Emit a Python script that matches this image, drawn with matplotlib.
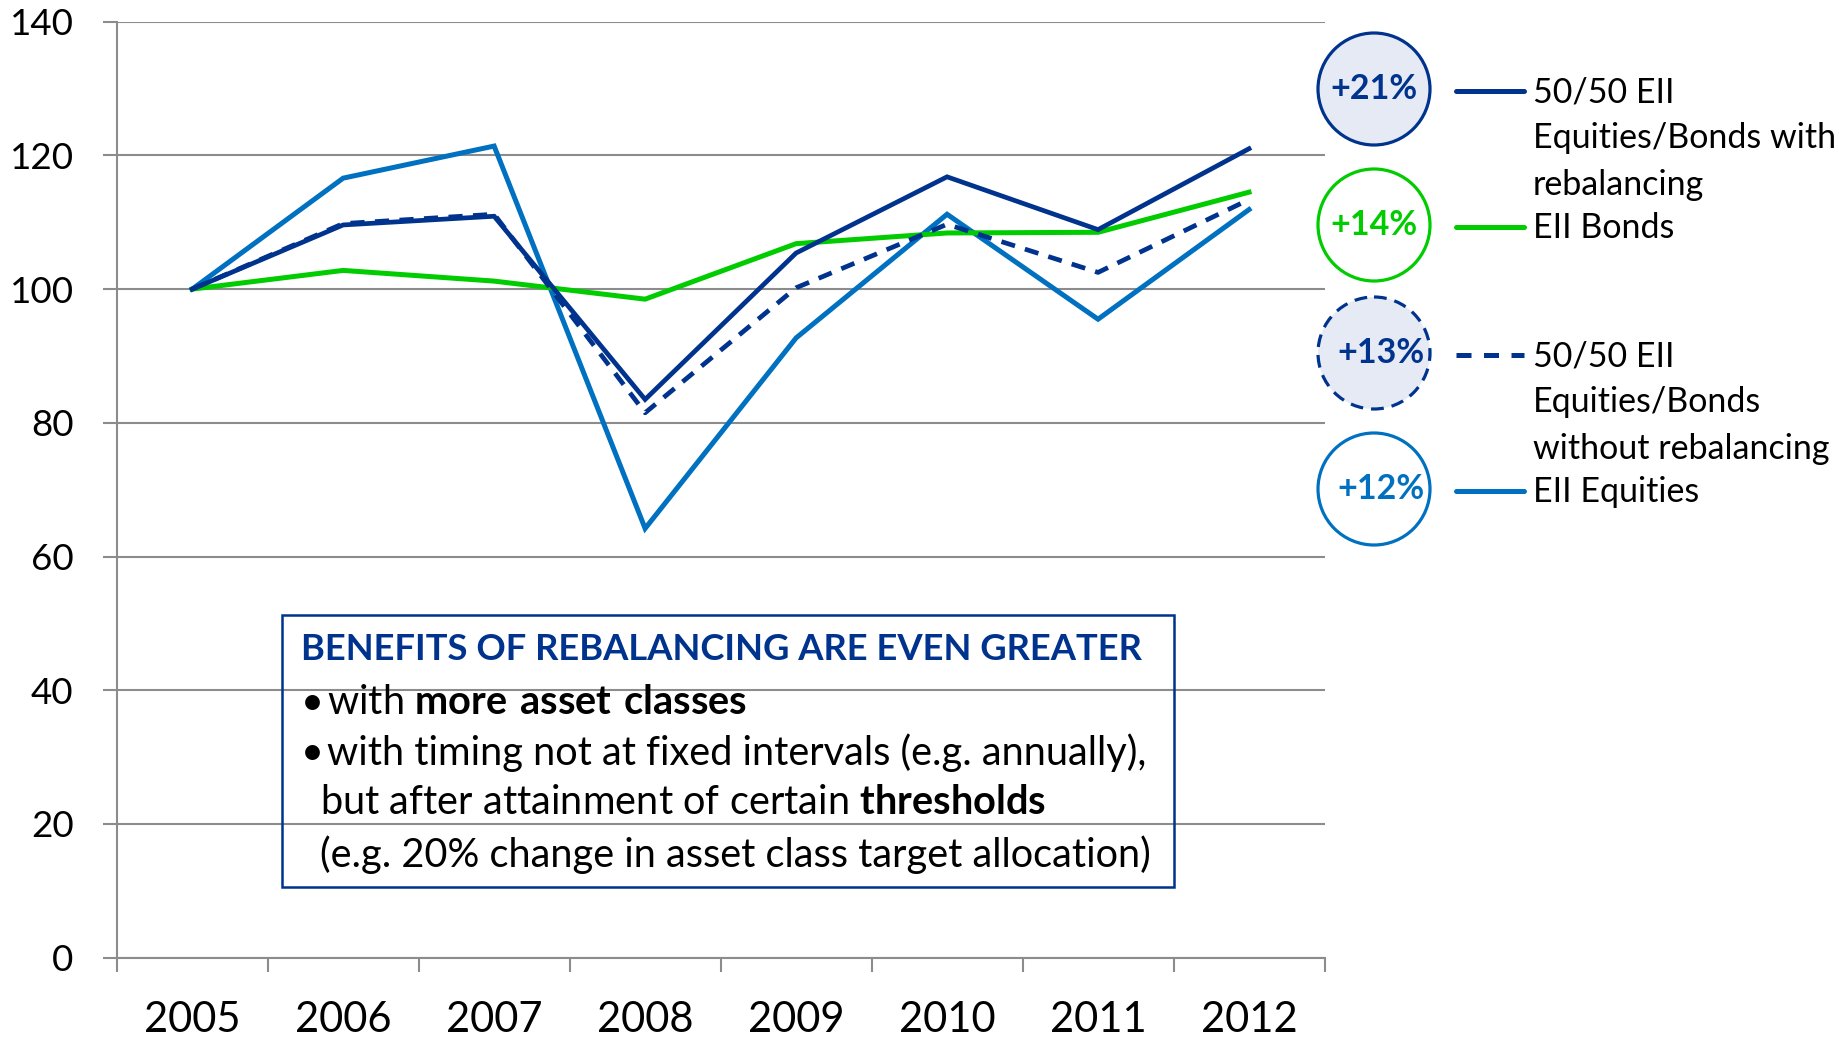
#!/usr/bin/env python3
"""Rebalancing chart: 50/50 EII portfolios vs single asset classes, 2005-2012."""
import numpy as np
import matplotlib
matplotlib.use('Agg')
import matplotlib.pyplot as plt
from matplotlib.patches import Circle, Rectangle

years = ['2005', '2006', '2007', '2008', '2009', '2010', '2011', '2012']
with_rebal = [100, 109.6, 110.9, 83.5, 105.4, 116.8, 108.9, 121.0]
bonds = [100, 102.8, 101.2, 98.5, 106.8, 108.4, 108.5, 114.5]
without_rebal = [100, 109.8, 111.2, 81.5, 100.2, 109.7, 102.5, 113.4]
equities = [100, 116.6, 121.4, 64.2, 92.7, 111.2, 95.5, 111.9]

legend_pct = ['+21%', '+14%', '+13%', '+12%']
legend_lines = [['50/50 EII', 'Equities/Bonds with', 'rebalancing'],
                ['EII Bonds'],
                ['50/50 EII', 'Equities/Bonds', 'without rebalancing'],
                ['EII Equities']]

COL = {
    'navy': '#00338D',
    'green': '#00CC00',
    'blue': '#0070C0',
    'fill': '#E6EAF4',
    'grid': '#8C8C8C',
}
FONT = 'Lato'
W, H = 1839, 1040


def main():
    plt.rcParams.update({'font.family': FONT, 'mathtext.fontset': 'custom',
                         'mathtext.rm': FONT, 'mathtext.bf': f'{FONT}:bold'})
    fig = plt.figure(figsize=(W / 100, H / 100), dpi=100, facecolor='white')
    ax = fig.add_axes([116.7 / W, 1 - 957.7 / H, (1324.5 - 116.7) / W, (957.7 - 21.7) / H])

    x = np.arange(len(years)) + 0.5
    ax.plot(x, equities, color=COL['blue'], lw=3.6, solid_joinstyle='miter', zorder=3)
    ax.plot(x, without_rebal, color=COL['navy'], lw=3.4, ls=(0, (3, 2.2)), zorder=4)
    ax.plot(x, bonds, color=COL['green'], lw=3.6, solid_joinstyle='miter', zorder=3)
    ax.plot(x, with_rebal, color=COL['navy'], lw=3.4, solid_joinstyle='miter', zorder=5)

    ax.set_xlim(0, len(years))
    ax.set_ylim(0, 140)
    ax.set_yticks(range(0, 141, 20))
    ax.grid(axis='y', color=COL['grid'], lw=1.5)
    ax.set_axisbelow(True)
    ax.spines[['top', 'right']].set_visible(False)
    for sp in ['left', 'bottom']:
        ax.spines[sp].set_color(COL['grid'])
        ax.spines[sp].set_linewidth(1.5)
    ax.tick_params(axis='y', length=10, width=1.5, color=COL['grid'], labelsize=26.5, pad=21)
    ax.set_xticks(range(len(years) + 1))
    ax.set_xticklabels([])
    ax.tick_params(axis='x', which='major', length=10, width=1.5, color=COL['grid'])
    ax.set_xticks(x, minor=True)
    ax.set_xticklabels(years, minor=True)
    ax.tick_params(axis='x', which='minor', length=0, labelsize=30, pad=31)

    # overlay in pixel coords for the legend circles and the text box
    ov = fig.add_axes([0, 0, 1, 1], facecolor='none')
    ov.set_xlim(0, W)
    ov.set_ylim(H, 0)
    ov.axis('off')

    circ_y = [89, 225, 353, 489]
    edge = [COL['navy'], COL['green'], COL['navy'], COL['blue']]
    face = [COL['fill'], 'white', COL['fill'], 'white']
    styles = ['-', '-', (0, (4, 2.5)), '-']
    dx = [0, 0, 7, 7]
    for cy, pct, ec, fc, st, d in zip(circ_y, legend_pct, edge, face, styles, dx):
        ov.add_patch(Circle((1374, cy), 56, fc=fc, ec=ec, lw=2.3, ls=st))
        ov.text(1374 + d, cy, pct, ha='center', va='center', fontsize=24.5, fontweight='bold', color=ec)
        ov.plot([1456, 1524], [cy + 2, cy + 2], color=ec, lw=3.6,
                ls=(0, (3, 2.5)) if st != '-' else '-', solid_capstyle='round')
    for cy, lines in zip(circ_y, legend_lines):
        for k, t in enumerate(lines):
            ov.text(1533, cy + 3 + k * 46.5, t, ha='left', va='center', fontsize=24.5, color='black')

    ov.add_patch(Rectangle((282, 615), 892, 272, fc='none', ec=COL['navy'], lw=1.8))
    ov.text(301, 650, 'BENEFITS OF REBALANCING ARE EVEN GREATER', ha='left', va='center',
            fontsize=26.2, fontweight='bold', color=COL['navy'])
    fs = 28.6
    ov.text(301, 703, '•', ha='left', va='center', fontsize=fs)
    ov.text(327, 703, 'with $\\bf{more\\ asset\\ classes}$', ha='left', va='center', fontsize=fs)
    ov.text(301, 753, '•', ha='left', va='center', fontsize=fs)
    ov.text(327, 753, 'with timing not at fixed intervals (e.g. annually),', ha='left', va='center', fontsize=fs)
    ov.text(320, 803, 'but after attainment of certain $\\bf{thresholds}$', ha='left', va='center', fontsize=fs)
    ov.text(320, 855, '(e.g. 20% change in asset class target allocation)', ha='left', va='center', fontsize=fs)

    fig.savefig('out.png', dpi=100, facecolor='white')
    plt.close(fig)


if __name__ == '__main__':
    main()
